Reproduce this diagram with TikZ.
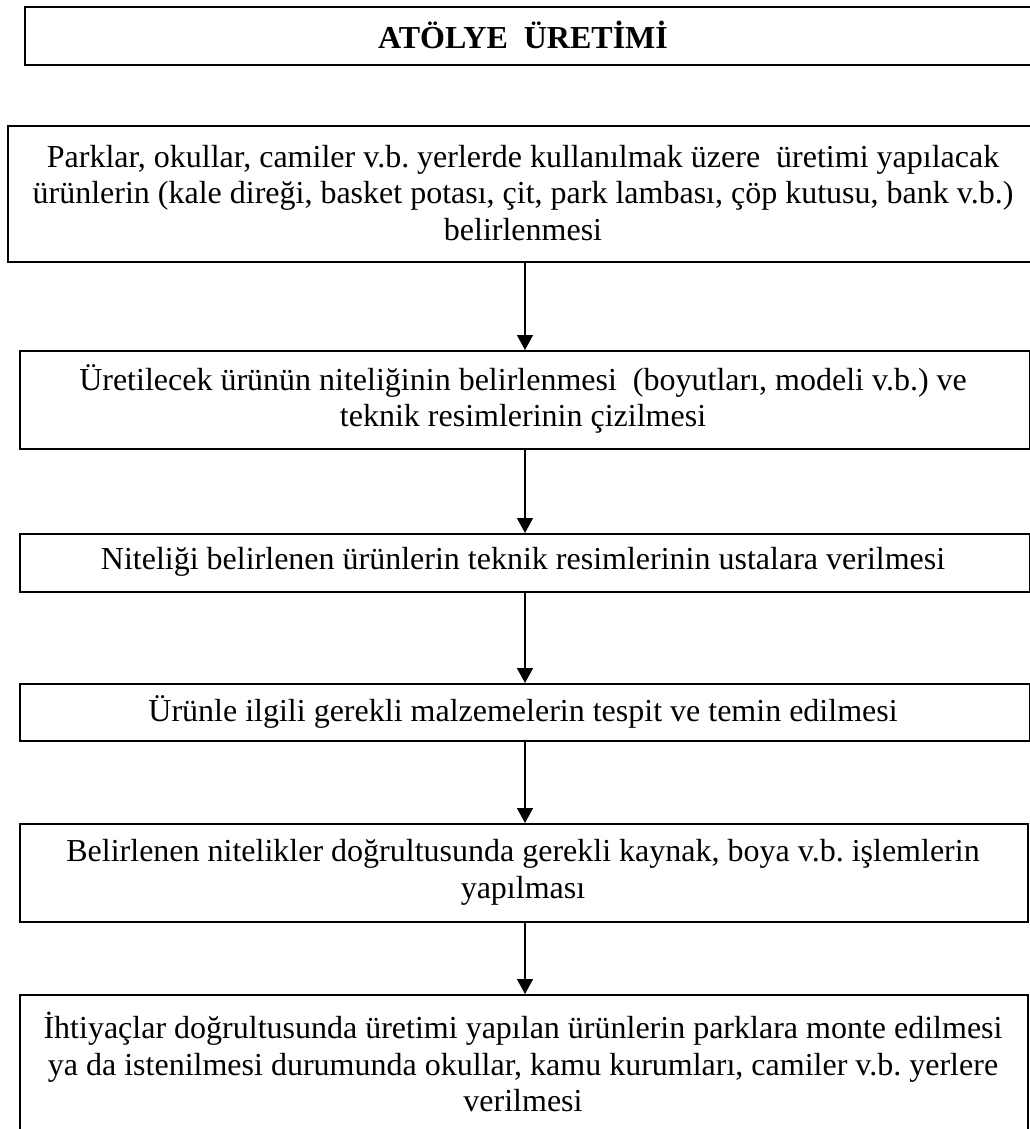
\documentclass[tikz,border=0pt]{standalone}
\usepackage{fontspec}
\setmainfont{Liberation Serif}
\usetikzlibrary{arrows.meta}
\frenchspacing
\begin{document}
\begin{tikzpicture}[x=1pt,y=-1pt,
  frame/.style={draw, line width=2pt, anchor=north west, inner sep=0pt},
  boxtext/.style={align=center, inner sep=0pt, font=\fontsize{32}{36.8}\selectfont},
  flow/.style={line width=1.5pt, -{Triangle[width=16pt,length=15pt]}}
]
\useasboundingbox (0,0) rectangle (1030,1129);

% frames of the flow chart
\node[frame, minimum width=1030pt, minimum height=58pt]  (t)  at (24,6)   {};
\node[frame, minimum width=1040pt, minimum height=136pt] (b1) at (7,125)  {};
\node[frame, minimum width=1010pt, minimum height=98pt]  (b2) at (19,350) {};
\node[frame, minimum width=1010pt, minimum height=58pt]  (b3) at (19,533) {};
\node[frame, minimum width=1010pt, minimum height=57pt]  (b4) at (19,683) {};
\node[frame, minimum width=1008pt, minimum height=98pt]  (b5) at (19,823) {};
\node[frame, minimum width=1008pt, minimum height=140pt] (b6) at (19,994) {};

% texts
\node[boxtext, font=\fontsize{32}{36.8}\selectfont\bfseries] (tt) at (523,35) {ATÖLYE\ \ ÜRETİMİ};
\node[boxtext] (t1) at (523,193) {Parklar, okullar, camiler v.b. yerlerde kullanılmak üzere\ \ üretimi yapılacak\\
ürünlerin (kale direği, basket potası, çit, park lambası, çöp kutusu, bank v.b.)\\
belirlenmesi};
\node[boxtext] (t2) at (523,399) {Üretilecek ürünün niteliğinin belirlenmesi\ \ (boyutları, modeli v.b.) ve\\
teknik resimlerinin çizilmesi};
\node[boxtext] (t3) at (523,562) {Niteliği belirlenen ürünlerin teknik resimlerinin ustalara verilmesi};
\node[boxtext] (t4) at (523,711.5) {Ürünle ilgili gerekli malzemelerin tespit ve temin edilmesi};
\node[boxtext] (t5) at (523,872) {Belirlenen nitelikler doğrultusunda gerekli kaynak, boya v.b. işlemlerin\\
yapılması};
\node[boxtext] (t6) at (523,1062) {İhtiyaçlar doğrultusunda üretimi yapılan ürünlerin parklara monte edilmesi\\
ya da istenilmesi durumunda okullar, kamu kurumları, camiler v.b. yerlere\\
verilmesi};

% connectors
\coordinate (ax) at (525,0);
\draw[flow] (b1.south -| ax) -- (b2.north -| ax);
\draw[flow] (b2.south -| ax) -- (b3.north -| ax);
\draw[flow] (b3.south -| ax) -- (b4.north -| ax);
\draw[flow] (b4.south -| ax) -- (b5.north -| ax);
\draw[flow] (b5.south -| ax) -- (b6.north -| ax);
\end{tikzpicture}
\end{document}
